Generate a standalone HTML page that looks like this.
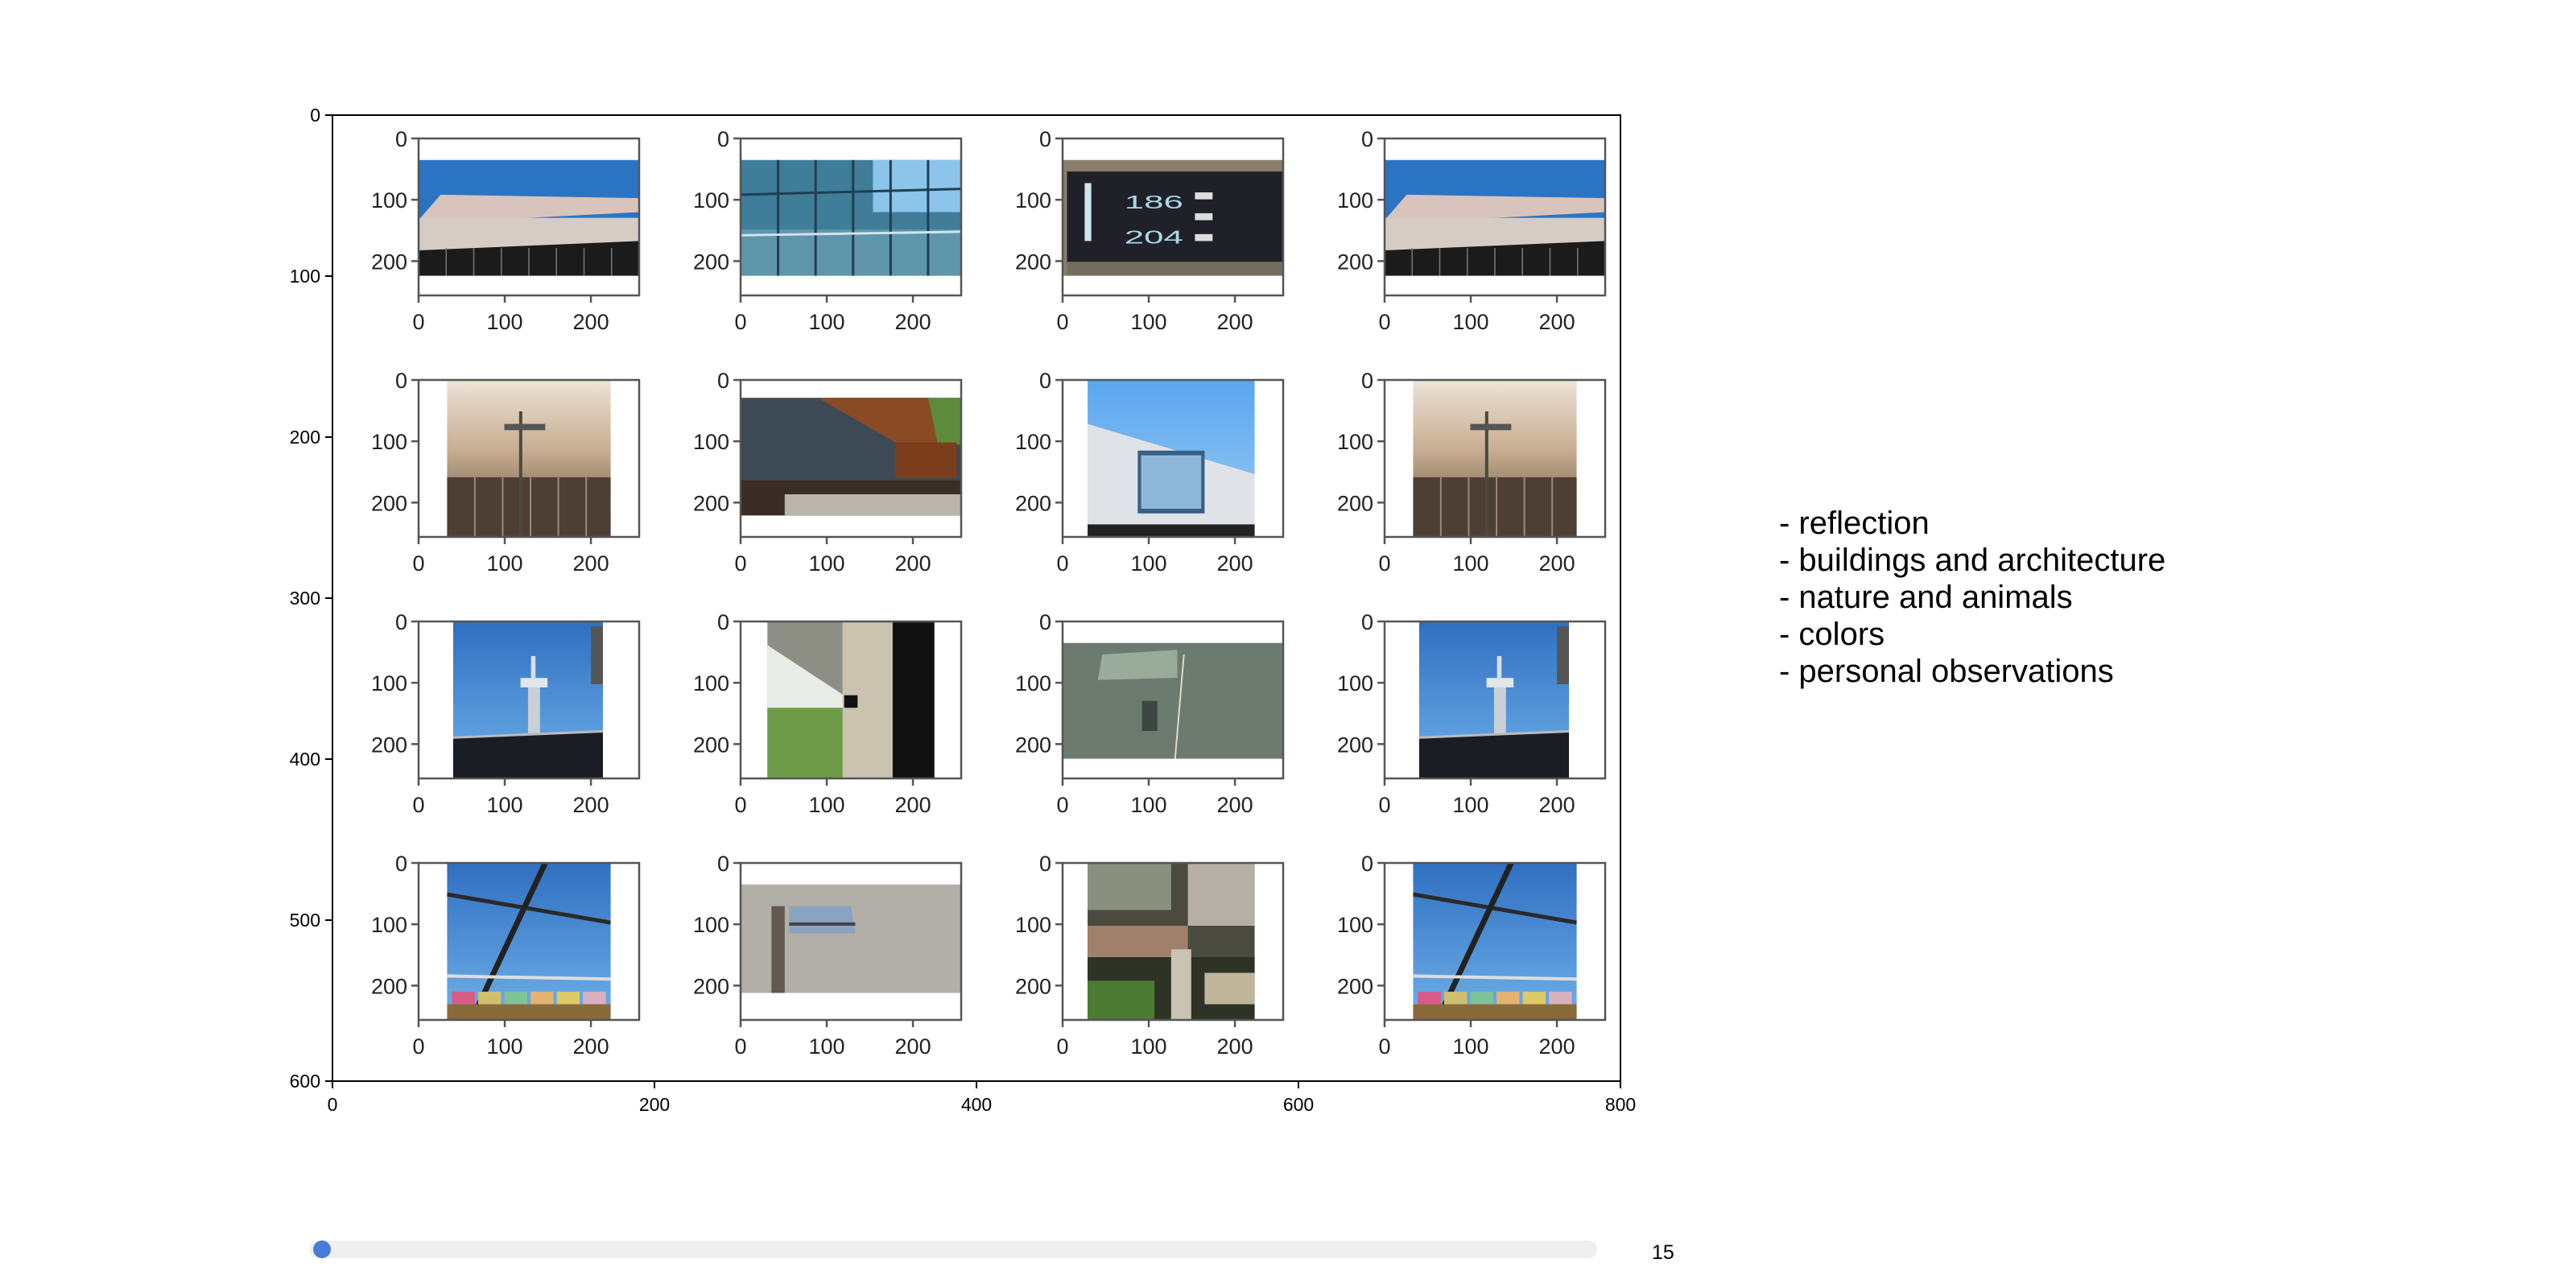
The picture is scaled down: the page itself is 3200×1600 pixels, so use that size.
<!DOCTYPE html>
<html><head><meta charset="utf-8"><style>
html,body{margin:0;padding:0;background:#fff;width:3200px;height:1600px;overflow:hidden}
svg text{font-family:"Liberation Sans",sans-serif}
</style></head><body>
<svg id="fig" width="3200" height="1600" viewBox="0 0 3200 1600" xmlns="http://www.w3.org/2000/svg">
<defs>
<linearGradient id="gSky" x1="0" y1="0" x2="0" y2="1"><stop offset="0" stop-color="#2f6fc0"/><stop offset="1" stop-color="#6fb0ea"/></linearGradient>
<linearGradient id="gSky2" x1="0" y1="0" x2="0" y2="1"><stop offset="0" stop-color="#5aa6ee"/><stop offset="1" stop-color="#9cccf5"/></linearGradient>
<linearGradient id="gArch" x1="0" y1="0" x2="0" y2="1"><stop offset="0" stop-color="#ece3d8"/><stop offset="0.45" stop-color="#c7ad90"/><stop offset="1" stop-color="#5c4a3e"/></linearGradient>
</defs>
<g id="outer"></g>
<g id="cells"></g>
<g id="legend"></g>
<g id="slider">
 <rect x="384" y="1541" width="1600" height="22" rx="11" fill="#efefef"/>
 <ellipse cx="400" cy="1552" rx="11" ry="11" fill="#4b7bd8"/>
 <text x="2052" y="1564" font-size="25" fill="#000">15</text>
</g>
</svg>
<script>
const NS="http://www.w3.org/2000/svg";
const outerXTicks=[0,200,400,600,800];
const outerYTicks=[0,100,200,300,400,500,600];
const innerTicks=[0,100,200];
const categories=["- reflection","- buildings and architecture","- nature and animals","- colors","- personal observations"];
const scenes=["building","glass","sign","building","arch","wood","skywin","arch","tower","concrete","greenwall","tower","skyframe","wall","interior","skyframe"];
const extX0=[0,0,0,0,33,0,29,33,40,31,0,40,33,0,29,33];
const extX1=[256,256,256,256,223,256,223,223,214,225,256,214,223,256,223,223];
const extY0=[35,35,35,35,0,29,0,0,0,0,35,0,0,35,0,0];
const extY1=[224,224,224,224,256,221,256,256,256,256,224,256,256,212,256,256];

const OX=413,OY=143,OS=2.0;
const ox=v=>OX+v*OS, oy=v=>OY+v*OS;
function mk(tag,attrs,parent){const e=document.createElementNS(NS,tag);for(const k in attrs)e.setAttribute(k,attrs[k]);if(parent)parent.appendChild(e);return e;}

const outer=document.getElementById('outer');
let fr=mk('rect',{x:ox(0),y:oy(0),width:ox(800)-ox(0),height:oy(600)-oy(0),fill:'none',stroke:'#000','stroke-width':2},outer);


outerXTicks.forEach(t=>{
  const l=mk('line',{x1:ox(t),x2:ox(t),y1:oy(600),y2:oy(600)+9,stroke:'#000','stroke-width':2},outer);
  
  
  const tx=mk('text',{x:ox(t),y:oy(600)+37,'font-size':23,'text-anchor':'middle'},outer);tx.textContent=t;
  
  
});
outerYTicks.forEach(t=>{
  const l=mk('line',{x1:ox(0)-9,x2:ox(0),y1:oy(t),y2:oy(t),stroke:'#000','stroke-width':2},outer);
  
  
  const tx=mk('text',{x:ox(0)-15,y:oy(t)+8,'font-size':23,'text-anchor':'end'},outer);tx.textContent=t;
  
  
});

function scene(g,type){
  const R=(x,y,w,h,f)=>mk('rect',{x,y,width:w,height:h,fill:f},g);
  const P=(pts,f)=>mk('polygon',{points:pts,fill:f},g);
  const L=(x1,y1,x2,y2,s,w)=>mk('line',{x1,y1,x2,y2,stroke:s,'stroke-width':w,'vector-effect':'non-scaling-stroke'},g);
  switch(type){
  case 'building':
    R(0,0,100,100,'#2b74c4');P('0,52 10,30 100,33 100,45 0,55','#d8c4bc');R(0,50,100,28,'#d6ccc4');P('0,78 100,70 100,100 0,100','#1b1b1b');
    for(let i=1;i<8;i++)L(i*12.5,76,i*12.5,100,'#777',1.5);break;
  case 'glass':
    R(0,0,100,100,'#3f7d98');R(60,0,40,45,'#8cc4ea');R(0,60,100,40,'#5f95ab');
    for(let i=1;i<6;i++)L(i*17,0,i*17,100,'#1e3f55',3);L(0,30,100,25,'#1e3f55',3);L(0,65,100,62,'#d0e4ee',3);break;
  case 'sign':
    R(0,0,100,100,'#8a7d6b');R(2,10,98,78,'#202128');R(2,88,98,12,'#746e60');R(10,20,3,50,'#cfe6ee');
    const t1=mk('text',{x:28,y:42,'font-size':16,fill:'#a9d8e6'},g);t1.textContent='186';
    const t2=mk('text',{x:28,y:72,'font-size':16,fill:'#a9d8e6'},g);t2.textContent='204';
    R(60,28,8,6,'#ddd');R(60,46,8,6,'#ddd');R(60,64,8,6,'#ddd');break;
  case 'arch':
    R(0,0,100,100,'url(#gArch)');R(0,62,100,38,'#4e3f35');for(let i=1;i<6;i++)L(i*17,62,i*17,100,'#9a8a7a',2);
    L(45,20,45,100,'#4a4a40',4);R(35,28,25,4,'#555');break;
  case 'wood':
    R(0,0,100,100,'#3d4a55');P('40,0 100,0 100,40 88,38','#5d8a3c');P('35,0 85,0 90,45 75,43','#8a4a24');
    R(70,38,28,30,'#7a3e1c');R(0,70,100,30,'#3a2d25');R(20,82,80,18,'#bbb6ad');break;
  case 'skywin':
    R(0,0,100,100,'url(#gSky2)');P('0,28 100,60 100,100 0,100','#dfe3e7');R(30,45,40,40,'#3a5f84');R(32,48,36,34,'#8fb7da');R(0,92,100,8,'#222');break;
  case 'tower':
    R(0,0,100,100,'url(#gSky)');R(50,38,8,48,'#c9cfd6');R(45,36,18,6,'#e2e7ec');R(52,22,3,15,'#d9dde2');R(92,3,8,37,'#555');
    P('0,74 100,70 100,100 0,100','#1a1e24');L(0,74,100,70,'#bbb',3);break;
  case 'concrete':
    R(0,0,100,100,'#8d8f85');P('0,15 50,50 50,100 0,100','#e8ece6');R(0,55,50,45,'#6d9a46');R(45,0,30,100,'#c9c3b0');R(75,0,25,100,'#111');R(46,47,8,8,'#111');break;
  case 'greenwall':
    R(0,0,100,100,'#6d7a70');P('18,10 52,6 52,30 16,32','#9aab9c');L(55,10,51,100,'#dcdcc8',2);R(36,50,7,26,'#3d4640');break;
  case 'skyframe':
    R(0,0,100,100,'url(#gSky)');L(0,20,100,38,'#2a2a2a',5);L(60,0,15,100,'#222',7);L(0,72,100,74,'#ddd',4);
    const cols=['#d85a88','#cfc070','#7fc39a','#e3b372','#dcca6a','#d8b0c0'];
    cols.forEach((c,i)=>R(3+i*16,82,14,12,c));R(0,90,100,10,'#8a6a3a');break;
  case 'wall':
    R(0,0,100,100,'#b2aea8');R(14,20,6,80,'#625a50');P('22,20 50,20 52,45 22,45','#8aa3c0');R(22,35,30,3,'#444');break;
  case 'interior':
    R(0,0,100,100,'#4a4a3e');R(0,0,50,30,'#8a9080');R(60,0,40,40,'#b5b0a5');R(0,40,60,20,'#a0806a');R(0,60,100,40,'#2e3326');
    R(0,75,40,25,'#4d7a32');R(50,55,12,45,'#c9c3b5');R(70,70,30,20,'#c0b59a');break;
  }
}

const cells=document.getElementById('cells');
scenes.forEach((sc,i)=>{
  const r=Math.floor(i/4),c=i%4;
  const g=mk('g',{},cells);
  
  
  const L=ox(c*200)+107,T=oy(r*150)+29,W=274,H=195;
  const sx=v=>L+v*W/256, sy=v=>T+v*H/256;
  const x0=sx(extX0[i]),x1=sx(extX1[i]),y0=sy(extY0[i]),y1=sy(extY1[i]);
  const im=mk('svg',{x:x0,y:y0,width:x1-x0,height:y1-y0,viewBox:'0 0 100 100',preserveAspectRatio:'none'},g);
  
  
  scene(im,sc);
  const f=mk('rect',{x:L,y:T,width:W,height:H,fill:'none',stroke:'#555','stroke-width':2.5},g);
  
  
  innerTicks.forEach(t=>{
    const a=mk('line',{x1:sx(t),x2:sx(t),y1:T+H,y2:T+H+9,stroke:'#555','stroke-width':2.5},g);
    
    
    const tx=mk('text',{x:sx(t),y:T+H+42,'font-size':27,'text-anchor':'middle',fill:'#222'},g);tx.textContent=t;
    
    
    const b=mk('line',{x1:L-9,x2:L,y1:sy(t),y2:sy(t),stroke:'#555','stroke-width':2.5},g);
    
    
    const ty=mk('text',{x:L-14,y:sy(t)+10,'font-size':27,'text-anchor':'end',fill:'#222'},g);ty.textContent=t;
    
    
  });
});

const leg=document.getElementById('legend');
categories.forEach((s,i)=>{
  const t=mk('text',{x:2210,y:663+i*46,'font-size':40,fill:'#000'},leg);t.textContent=s;
  
  
});
</script>
</body></html>
